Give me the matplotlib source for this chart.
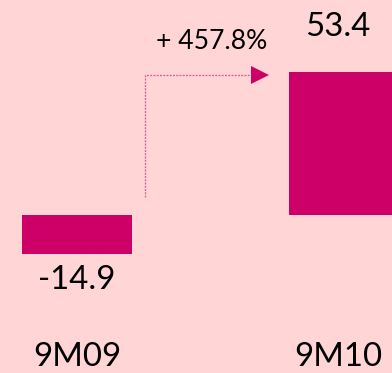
import matplotlib
matplotlib.use("Agg")
import matplotlib.pyplot as plt

# data
periods = ["9M09", "9M10"]
values = [-14.9, 53.4]
growth = "+ 457.8%"

BG = "#FFD5D5"
BAR = "#CC0066"

plt.rcParams['font.family'] = ['Lato', 'DejaVu Sans']

fig = plt.figure(figsize=(392 / 72, 373 / 72), dpi=72, facecolor=BG)
ax = fig.add_axes([0, 0, 1, 1])
ax.set_facecolor(BG)

x = [0, 1]
ax.bar(x, values, width=0.412, color=BAR, edgecolor="none")

# value labels above / below the bars (right label sits a bit left, bar is cut off)
shift = [0, -0.022]
for xi, v, s in zip(x, values, shift):
    if v >= 0:
        ax.text(xi + s, v + 17.0, "%.1f" % v, ha="center", va="center", fontsize=33, color="black")
    else:
        ax.text(xi + s, v - 9.5, "%.1f" % v, ha="center", va="center", fontsize=33, color="black")

# category labels at the bottom
for xi, p, s in zip(x, periods, shift):
    ax.text(xi + s, -53.3, p, ha="center", va="center", fontsize=33, color="black")

# growth arrow (dotted elbow + triangle head)
ax.plot([0.255, 0.255, 0.66], [6.6, 52.3, 52.3], color="#DE5C96", lw=1.3, ls=(0, (1.5, 1)))
ax.plot([0.685], [52.3], marker=">", markersize=18, color=BAR, markeredgewidth=0)
ax.text(0.506, 65.0, growth, ha="center", va="center", fontsize=26.5, color="black")

ax.set_xlim(-0.288, 1.180)
ax.set_ylim(-59.4, 80.4)
ax.axis("off")

plt.savefig("out.png", dpi=72, facecolor=BG)
plt.close()
